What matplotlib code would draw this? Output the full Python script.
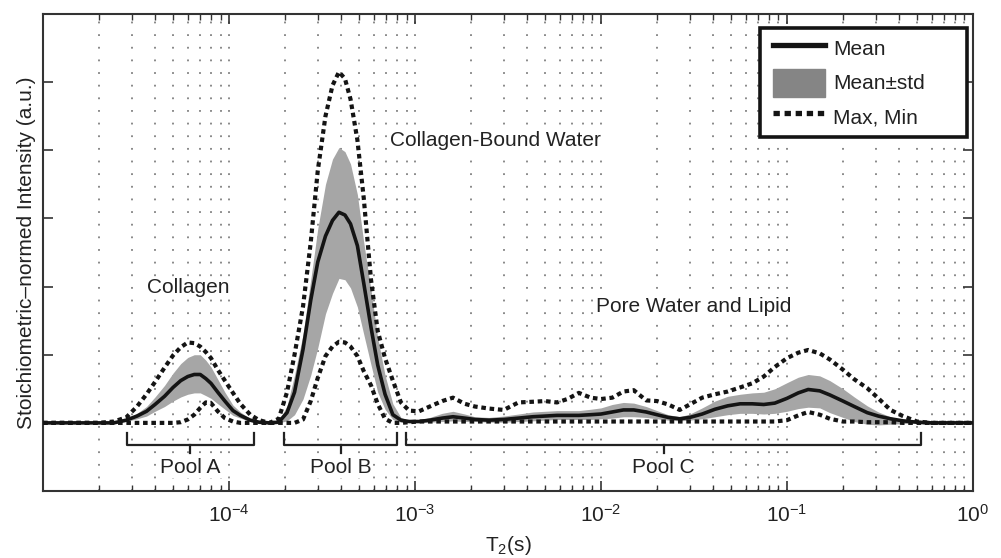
import numpy as np
import matplotlib
matplotlib.use('Agg')
import matplotlib.pyplot as plt
from matplotlib.ticker import LogLocator, NullFormatter
from matplotlib.lines import Line2D
from matplotlib.patches import Patch
from matplotlib.legend_handler import HandlerLine2D, HandlerPatch

plt.rcParams['font.family'] = ['Liberation Sans', 'DejaVu Sans']
plt.rcParams['mathtext.fontset'] = 'custom'
plt.rcParams['mathtext.rm'] = 'Liberation Sans'
plt.rcParams['mathtext.it'] = 'Liberation Sans:italic'
plt.rcParams['font.size'] = 15

# T2 relaxation times (s)
t2 = [1e-5, 2.0e-5, 2.4e-5, 2.8e-5, 3.2e-5, 3.6e-5, 4.0e-5, 4.5e-5, 5.0e-5, 5.5e-5,
      6.0e-5, 6.5e-5, 7.0e-5, 7.5e-5, 8.0e-5, 8.7e-5, 9.5e-5, 1.05e-4, 1.15e-4, 1.3e-4,
      1.45e-4, 1.65e-4, 1.85e-4, 2.05e-4, 2.25e-4, 2.5e-4, 2.75e-4, 3.0e-4, 3.3e-4, 3.6e-4,
      3.9e-4, 4.2e-4, 4.5e-4, 4.9e-4, 5.3e-4, 5.8e-4, 6.3e-4, 6.9e-4, 7.6e-4, 8.4e-4,
      9.3e-4, 1.05e-3, 1.2e-3, 1.4e-3, 1.6e-3, 1.85e-3, 2.1e-3, 2.5e-3, 3.0e-3, 3.6e-3,
      4.3e-3, 5.0e-3, 5.8e-3, 6.6e-3, 7.6e-3, 8.8e-3, 1.0e-2, 1.15e-2, 1.32e-2, 1.5e-2,
      1.75e-2, 2.0e-2, 2.3e-2, 2.65e-2, 3.0e-2, 3.5e-2, 4.1e-2, 4.8e-2, 5.6e-2, 6.5e-2,
      7.5e-2, 8.6e-2, 1.0e-1, 1.15e-1, 1.3e-1, 1.5e-1, 1.7e-1, 2.0e-1, 2.3e-1, 2.7e-1,
      3.1e-1, 3.6e-1, 4.2e-1, 5.0e-1, 6.0e-1, 1.0]

mean = [0, 0, 0, 0.04, 0.10, 0.17, 0.27, 0.39, 0.52, 0.62,
        0.68, 0.71, 0.71, 0.65, 0.58, 0.45, 0.32, 0.18, 0.11, 0.04,
        0.01, 0, 0.01, 0.15, 0.45, 1.08, 1.80, 2.36, 2.74, 2.97,
        3.09, 3.05, 2.92, 2.60, 2.05, 1.40, 0.85, 0.42, 0.12, 0.04,
        0.02, 0.02, 0.04, 0.07, 0.09, 0.07, 0.05, 0.04, 0.05, 0.07,
        0.09, 0.10, 0.11, 0.11, 0.11, 0.12, 0.13, 0.16, 0.19, 0.19,
        0.16, 0.12, 0.08, 0.06, 0.08, 0.13, 0.20, 0.25, 0.28, 0.28,
        0.27, 0.29, 0.36, 0.44, 0.49, 0.47, 0.41, 0.32, 0.24, 0.15,
        0.10, 0.06, 0.03, 0.01, 0, 0]

std_hi = [0, 0, 0.01, 0.06, 0.14, 0.24, 0.38, 0.55, 0.73, 0.87,
          0.96, 1.00, 1.00, 0.92, 0.82, 0.64, 0.45, 0.26, 0.16, 0.06,
          0.02, 0, 0.03, 0.25, 0.70, 1.30, 2.10, 2.85, 3.50, 3.87,
          4.04, 3.98, 3.80, 3.35, 2.65, 1.95, 1.25, 0.70, 0.28, 0.08,
          0.03, 0.04, 0.08, 0.14, 0.17, 0.13, 0.09, 0.08, 0.10, 0.13,
          0.16, 0.17, 0.18, 0.18, 0.18, 0.20, 0.22, 0.27, 0.30, 0.29,
          0.24, 0.18, 0.12, 0.09, 0.13, 0.22, 0.32, 0.39, 0.42, 0.44,
          0.45, 0.50, 0.59, 0.67, 0.71, 0.69, 0.62, 0.50, 0.38, 0.25,
          0.16, 0.09, 0.04, 0.01, 0, 0]

std_lo = [0, 0, 0, 0.02, 0.06, 0.10, 0.17, 0.24, 0.32, 0.38,
          0.42, 0.44, 0.44, 0.40, 0.36, 0.28, 0.20, 0.11, 0.07, 0.02,
          0, 0, 0, 0.03, 0.12, 0.35, 0.70, 1.10, 1.60, 1.90,
          2.12, 2.10, 1.98, 1.70, 1.30, 0.85, 0.45, 0.20, 0.05, 0.01,
          0.01, 0.01, 0.01, 0.02, 0.03, 0.02, 0.02, 0.01, 0.01, 0.02,
          0.03, 0.04, 0.05, 0.05, 0.05, 0.05, 0.06, 0.07, 0.09, 0.09,
          0.08, 0.06, 0.04, 0.03, 0.04, 0.06, 0.09, 0.12, 0.14, 0.14,
          0.13, 0.14, 0.17, 0.21, 0.23, 0.22, 0.15, 0.08, 0.02, -0.02,
          -0.03, -0.02, -0.01, 0, 0, 0]

vmax = [0, 0, 0.02, 0.08, 0.24, 0.42, 0.60, 0.81, 0.99, 1.11,
        1.18, 1.17, 1.12, 1.04, 0.95, 0.78, 0.62, 0.44, 0.28, 0.12,
        0.04, 0, 0.06, 0.45, 1.00, 1.71, 2.65, 3.70, 4.50, 4.95,
        5.15, 5.05, 4.75, 4.15, 3.30, 2.10, 1.35, 0.95, 0.62, 0.30,
        0.18, 0.17, 0.24, 0.32, 0.37, 0.28, 0.24, 0.21, 0.19, 0.30,
        0.31, 0.32, 0.30, 0.35, 0.44, 0.37, 0.35, 0.37, 0.46, 0.48,
        0.33, 0.32, 0.27, 0.19, 0.27, 0.37, 0.42, 0.46, 0.52, 0.58,
        0.68, 0.82, 0.95, 1.03, 1.07, 1.02, 0.93, 0.78, 0.64, 0.51,
        0.36, 0.19, 0.10, 0.02, 0, 0]

vmin = [0, 0, 0, 0, 0, 0, 0, 0, 0, 0.01,
        0.05, 0.12, 0.22, 0.30, 0.29, 0.17, 0.07, 0.02, 0, 0,
        0, 0, 0, 0, 0, 0.05, 0.32, 0.66, 0.98, 1.12,
        1.19, 1.18, 1.12, 0.98, 0.76, 0.55, 0.28, 0.06, 0, 0,
        0.01, 0.02, 0.02, 0.02, 0.02, 0.02, 0.02, 0.02, 0.02, 0.02,
        0.02, 0.02, 0.02, 0.02, 0.02, 0.02, 0.02, 0.02, 0.02, 0.02,
        0.02, 0.02, 0.02, 0.02, 0.02, 0.02, 0.02, 0.02, 0.02, 0.02,
        0.02, 0.02, 0.04, 0.11, 0.16, 0.12, 0.06, 0.02, 0.02, 0.01,
        0.01, 0.01, 0, 0, 0, 0]

# pool ranges marked under the curves
pool_names = ['Pool A', 'Pool B', 'Pool C']
pool_lo = [2.83e-5, 1.98e-4, 8.96e-4]
pool_hi = [1.36e-4, 8.0e-4, 0.525]

xticks = [1e-5, 1e-4, 1e-3, 1e-2, 1e-1, 1]
xticklabels = ['', r'$10^{-4}$', r'$10^{-3}$', r'$10^{-2}$', r'$10^{-1}$', r'$10^{0}$']

fig = plt.figure(figsize=(10.01, 5.58), dpi=100)
ax = fig.add_axes([0.043, 0.12, 0.929, 0.855])

ink = '#141414'
dots = (0, (1.1, 0.9))

ax.fill_between(t2, std_lo, std_hi, color='#a6a6a6', lw=0, zorder=2)
ax.plot(t2, vmax, color=ink, lw=3.0, ls=dots, zorder=3)
ax.plot(t2, vmin, color=ink, lw=3.0, ls=dots, zorder=3)
ax.plot(t2, mean, color=ink, lw=2.6, zorder=4)

ax.set_xscale('log')
ax.set_xlim(1e-5, 1)
ax.set_ylim(-1, 6)

# brackets for the pools
for name, lo, hi in zip(pool_names, pool_lo, pool_hi):
    mid = np.sqrt(lo * hi)
    ax.plot([lo, lo, hi, hi], [-0.15, -0.32, -0.32, -0.15], color='#222', lw=1.6, zorder=3)
    ax.plot([mid, mid], [-0.32, -0.44], color='#222', lw=1.6, zorder=3)
    ax.text(mid, -0.73, name, ha='center', va='baseline', color='#222',
            bbox=dict(facecolor='white', edgecolor='none', pad=1), zorder=5)

box = dict(facecolor='white', edgecolor='none', pad=1)
ax.text(6.0e-5, 1.90, 'Collagen', ha='center', va='baseline', color='#222', bbox=box, zorder=5)
ax.text(2.72e-3, 4.06, 'Collagen-Bound Water', ha='center', va='baseline', color='#222', bbox=box, zorder=5)
ax.text(3.14e-2, 1.62, 'Pore Water and Lipid', ha='center', va='baseline', color='#222', bbox=box, zorder=5)

# grid and ticks
ax.set_axisbelow(True)
ax.grid(True, which='both', axis='x', color='#808080', lw=1.3, ls=(0, (1, 6)))
ax.set_xticks(xticks)
ax.set_xticklabels(xticklabels)
ax.xaxis.set_minor_locator(LogLocator(base=10, subs=np.arange(2, 10), numticks=20))
ax.xaxis.set_minor_formatter(NullFormatter())
ax.set_yticks([0, 1, 2, 3, 4, 5])
ax.set_yticklabels([])
ax.tick_params(which='both', direction='in', top=True, right=True, color='#333', labelcolor='#222')
ax.tick_params(which='major', length=7, width=1.2, pad=9)
ax.tick_params(which='minor', length=4, width=1)
for s in ax.spines.values():
    s.set_color('#333')
    s.set_linewidth(1.5)

ax.set_xlabel('T$_2$(s)', color='#222', labelpad=6)
ax.set_ylabel('Stoichiometric\u2013normed Intensity (a.u.)', color='#222')
ax.yaxis.set_label_coords(-0.008, 0.5)

# legend (MATLAB style box)
h_mean = Line2D([], [], color=ink, lw=3.8)
h_std = Patch(facecolor='#858585', edgecolor='#858585')
h_mm = Line2D([], [], color=ink, lw=3.8, ls=(0, (1.2, 0.9)))
leg = ax.legend([h_mean, h_std, h_mm], ['Mean', 'Mean\u00b1std', 'Max, Min'], loc='upper right',
                bbox_to_anchor=(0.771, 0.5, 0.2226, 0.4706), mode='expand',
                borderaxespad=0, fancybox=False, framealpha=1, edgecolor=ink,
                handlelength=2.81, handleheight=1.7, handletextpad=0.4,
                labelspacing=0.29, borderpad=0.31,
                handler_map={Line2D: HandlerLine2D(xpad=0.31), Patch: HandlerPatch(xpad=0.31)})
leg.get_frame().set_linewidth(2.6)
for t in leg.get_texts():
    t.set_color('#222')

fig.savefig('out.png', dpi=100)
